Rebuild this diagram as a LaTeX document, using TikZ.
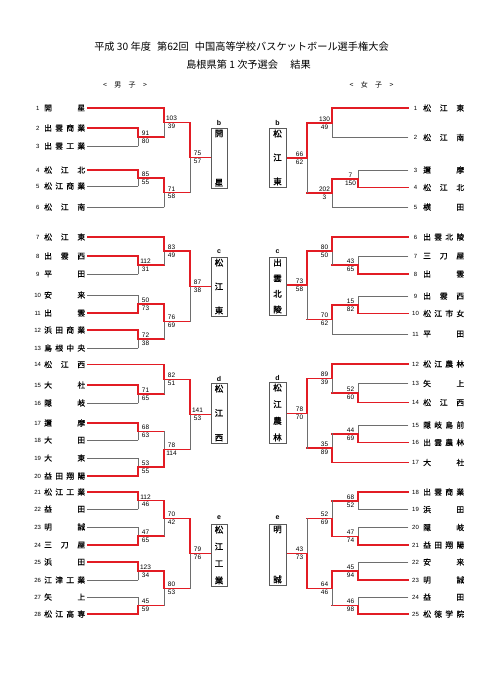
\documentclass[tikz,border=0pt]{standalone}
\usepackage{fontspec}
\setmainfont{Liberation Sans}
\newfontfamily\jp{Noto Sans CJK JP}
\newfontfamily\jpn[FakeBold=0.3]{Noto Sans CJK JP}
\newfontfamily\jpb[FakeBold=1.2]{Noto Sans CJK JP}
\definecolor{myred}{RGB}{226,28,36}
\definecolor{mygray}{RGB}{110,110,110}
\definecolor{boxgray}{RGB}{90,90,90}
\tikzset{
  nmst/.style={inner sep=0pt, font=\jpn\fontsize{7.8}{8}\selectfont},
  numst/.style={inner sep=0pt, font=\fontsize{6}{6}\selectfont},
  scst/.style={inner sep=0pt, font=\fontsize{6.5}{7}\selectfont},
  rl/.style={draw=myred, line width=1.5pt, line cap=rect},
  gl/.style={draw=mygray, line width=0.8pt, line cap=rect},
  bx/.style={draw=boxgray, line width=0.8pt, fill=white, inner sep=0pt},
  lab/.style={inner sep=0pt, font=\bfseries\fontsize{7}{7}\selectfont},
  ttl/.style={inner sep=0pt, font=\jp\fontsize{10.2}{12}\selectfont},
  sub/.style={inner sep=0pt, font=\jp\fontsize{7}{8}\selectfont}
}
\newcommand\teamL[6]{%
  \node[numst] at (37.7,#3) {#2};
  \node[nmst, anchor=west] (#1) at (44,#3) {\makebox[41pt][s]{#4}};
  \draw[#6] (#1.east) ++(2,0) -- (#5,#3);
}
\newcommand\teamR[6]{%
  \node[numst] at (415.5,#3) {#2};
  \node[nmst, anchor=west] (#1) at (423,#3) {\makebox[41pt][s]{#4}};
  \draw[#6] (#1.west) ++(-15,0) -- (#5,#3);
}
\newcommand\matchX[8]{%
  \pgfmathsetmacro\ymid{(#2+#3)/2}%
  \if#4t
    \draw[gl] (#1,\ymid) -- (#1,#3);
    \draw[rl] (#1,#2) -- (#1,\ymid);
  \else
    \draw[gl] (#1,#2) -- (#1,\ymid);
    \draw[rl] (#1,\ymid) -- (#1,#3);
  \fi
  \draw[rl] (#1,\ymid) -- (#5,\ymid);
  \node[scst, anchor=south] at (#8,\ymid-1.3) {#6};
  \node[scst, anchor=north] at (#8,\ymid+1.6) {#7};
}
\newcommand\boxtxt[2]{\parbox[c][#1pt][s]{12pt}{\centering\jpb\fontsize{8.5}{9}\selectfont #2}}
\begin{document}
\begin{tikzpicture}[x=1pt,y=-1pt]
\useasboundingbox (0,0) rectangle (481,680);
% titles
\node[ttl] (T1) at (241.5,47) {平成 30 年度\hspace{0.6em}第62回\hspace{0.6em}中国高等学校バスケットボール選手権大会};
\node[ttl] (T2) at (248.5,65) {島根県第 1 次予選会\hspace{1.2em}結果};
\node[sub] (SB) at (125,85) {\makebox[44pt][s]{<\hfill 男\hfill 子\hfill >}};
\node[sub] (SG) at (371.5,85) {\makebox[44pt][s]{<\hfill 女\hfill 子\hfill >}};
% ===== boys =====
\teamL{L1}{1}{108}{開\hfill 星}{164}{rl}
\teamL{L2}{2}{128}{出\hfill 雲\hfill 商\hfill 業}{138}{rl}
\teamL{L3}{3}{146}{出\hfill 雲\hfill 工\hfill 業}{138}{gl}
\teamL{L4}{4}{170}{松\hfill 江\hfill 北}{138}{rl}
\teamL{L5}{5}{186}{松\hfill 江\hfill 商\hfill 業}{138}{gl}
\teamL{L6}{6}{207}{松\hfill 江\hfill 南}{164}{gl}
\matchX{138}{128}{146}{t}{164}{91}{80}{145.5}
\matchX{164}{108}{137}{t}{190}{103}{39}{171.5}
\matchX{138}{170}{186}{t}{164}{85}{55}{145.5}
\matchX{164}{178}{207}{t}{190}{71}{58}{171.5}
\matchX{190}{122.5}{192.5}{t}{211}{75}{57}{197.5}
\teamL{L7}{7}{237}{松\hfill 江\hfill 東}{164}{rl}
\teamL{L8}{8}{256}{出\hfill 雲\hfill 西}{138}{rl}
\teamL{L9}{9}{274}{平\hfill 田}{138}{gl}
\teamL{L10}{10}{295}{安\hfill 来}{138}{gl}
\teamL{L11}{11}{313}{出\hfill 雲}{138}{rl}
\teamL{L12}{12}{330}{浜\hfill 田\hfill 商\hfill 業}{138}{rl}
\teamL{L13}{13}{348}{島\hfill 根\hfill 中\hfill 央}{138}{gl}
\matchX{138}{256}{274}{t}{164}{112}{31}{145.5}
\matchX{164}{237}{265}{t}{190}{83}{49}{171.5}
\matchX{138}{295}{313}{b}{164}{50}{73}{145.5}
\matchX{138}{330}{348}{t}{164}{72}{38}{145.5}
\matchX{164}{304}{339}{t}{190}{76}{69}{171.5}
\matchX{190}{251}{321.5}{t}{211}{87}{38}{197.5}
\teamL{L14}{14}{364.5}{松\hfill 江\hfill 西}{164}{rl}
\teamL{L15}{15}{385}{大\hfill 社}{138}{rl}
\teamL{L16}{16}{403}{隠\hfill 岐}{138}{gl}
\teamL{L17}{17}{423}{邇\hfill 摩}{138}{rl}
\teamL{L18}{18}{440}{大\hfill 田}{138}{gl}
\teamL{L19}{19}{458}{大\hfill 東}{138}{gl}
\teamL{L20}{20}{476}{益\hfill 田\hfill 翔\hfill 陽}{138}{rl}
\matchX{138}{385}{403}{t}{164}{71}{65}{145.5}
\matchX{164}{364.5}{394}{t}{190}{82}{51}{171.5}
\matchX{138}{423}{440}{t}{164}{68}{63}{145.5}
\matchX{138}{458}{476}{b}{164}{53}{55}{145.5}
\matchX{164}{431.5}{467}{b}{190}{78}{114}{171.5}
\matchX{190}{379.25}{449.25}{t}{211}{141}{53}{197.5}
\teamL{L21}{21}{492}{松\hfill 江\hfill 工\hfill 業}{138}{rl}
\teamL{L22}{22}{509}{益\hfill 田}{138}{gl}
\teamL{L23}{23}{527}{明\hfill 誠}{138}{gl}
\teamL{L24}{24}{545}{三\hfill 刀\hfill 屋}{138}{rl}
\teamL{L25}{25}{562}{浜\hfill 田}{138}{rl}
\teamL{L26}{26}{580}{江\hfill 津\hfill 工\hfill 業}{138}{gl}
\teamL{L27}{27}{597}{矢\hfill 上}{138}{gl}
\teamL{L28}{28}{614}{松\hfill 江\hfill 高\hfill 専}{138}{rl}
\matchX{138}{492}{509}{t}{164}{112}{46}{145.5}
\matchX{138}{527}{545}{b}{164}{47}{65}{145.5}
\matchX{164}{500.5}{536}{t}{190}{70}{42}{171.5}
\matchX{138}{562}{580}{t}{164}{123}{34}{145.5}
\matchX{138}{597}{614}{b}{164}{45}{59}{145.5}
\matchX{164}{571}{605.5}{t}{190}{80}{53}{171.5}
\matchX{190}{518.25}{588.25}{t}{211}{79}{76}{197.5}
% ===== girls =====
\teamR{R1}{1}{108}{松\hfill 江\hfill 東}{332}{rl}
\teamR{R2}{2}{137.5}{松\hfill 江\hfill 南}{332}{gl}
\teamR{R3}{3}{170}{邇\hfill 摩}{358}{gl}
\teamR{R4}{4}{187.5}{松\hfill 江\hfill 北}{358}{rl}
\teamR{R5}{5}{207}{横\hfill 田}{332}{gl}
\matchX{332}{108}{137.5}{t}{307}{130}{49}{324.5}
\matchX{358}{170}{187.5}{b}{332}{7}{150}{350.5}
\matchX{332}{178.75}{207}{t}{307}{202}{3}{324.5}
\matchX{307}{122.75}{192.875}{t}{286}{66}{62}{299.5}
\teamR{R6}{6}{237}{出\hfill 雲\hfill 北\hfill 陵}{332}{rl}
\teamR{R7}{7}{256}{三\hfill 刀\hfill 屋}{358}{gl}
\teamR{R8}{8}{274}{出\hfill 雲}{358}{rl}
\teamR{R9}{9}{296}{出\hfill 雲\hfill 西}{358}{gl}
\teamR{R10}{10}{313.5}{松\hfill 江\hfill 市\hfill 女}{358}{rl}
\teamR{R11}{11}{334}{平\hfill 田}{332}{gl}
\matchX{358}{256}{274}{b}{332}{43}{65}{350.5}
\matchX{332}{237}{265}{t}{307}{80}{50}{324.5}
\matchX{358}{296}{313.5}{b}{332}{15}{82}{350.5}
\matchX{332}{304.75}{334}{t}{307}{70}{62}{324.5}
\matchX{307}{251}{319.375}{t}{286}{73}{58}{299.5}
\teamR{R12}{12}{364}{松\hfill 江\hfill 農\hfill 林}{332}{rl}
\teamR{R13}{13}{383.5}{矢\hfill 上}{358}{gl}
\teamR{R14}{14}{402.5}{松\hfill 江\hfill 西}{358}{rl}
\teamR{R15}{15}{425}{隠\hfill 岐\hfill 島\hfill 前}{358}{gl}
\teamR{R16}{16}{442.5}{出\hfill 雲\hfill 農\hfill 林}{358}{rl}
\teamR{R17}{17}{462.5}{大\hfill 社}{332}{rl}
\matchX{358}{383.5}{402.5}{b}{332}{52}{60}{350.5}
\matchX{332}{364}{393}{t}{307}{89}{39}{324.5}
\matchX{358}{425}{442.5}{b}{332}{44}{69}{350.5}
\matchX{332}{433.75}{462.5}{b}{307}{35}{89}{324.5}
\matchX{307}{378.5}{448.125}{t}{286}{78}{70}{299.5}
\teamR{R18}{18}{492}{出\hfill 雲\hfill 商\hfill 業}{358}{rl}
\teamR{R19}{19}{509.5}{浜\hfill 田}{358}{gl}
\teamR{R20}{20}{527.5}{隠\hfill 岐}{358}{gl}
\teamR{R21}{21}{545}{益\hfill 田\hfill 翔\hfill 陽}{358}{rl}
\teamR{R22}{22}{562}{安\hfill 来}{358}{gl}
\teamR{R23}{23}{580}{明\hfill 誠}{358}{rl}
\teamR{R24}{24}{597}{益\hfill 田}{358}{gl}
\teamR{R25}{25}{614}{松\hfill 徳\hfill 学\hfill 院}{358}{rl}
\matchX{358}{492}{509.5}{t}{332}{68}{52}{350.5}
\matchX{358}{527.5}{545}{b}{332}{47}{74}{350.5}
\matchX{332}{500.75}{536.25}{b}{307}{52}{69}{324.5}
\matchX{358}{562}{580}{b}{332}{45}{94}{350.5}
\matchX{358}{597}{614}{b}{332}{46}{98}{350.5}
\matchX{332}{571}{605.5}{t}{307}{64}{46}{324.5}
\matchX{307}{518.5}{588.25}{b}{286}{43}{73}{299.5}
% ===== winner boxes =====
\node[bx, minimum width=16pt, minimum height=60pt] (WLb) at (219,158) {\boxtxt{56}{開\par\vfill 星}};
\node[bx, minimum width=16pt, minimum height=59pt] (WLc) at (219,286.5) {\boxtxt{55}{松\par\vfill 江\par\vfill 東}};
\node[bx, minimum width=16pt, minimum height=60pt] (WLd) at (219,413) {\boxtxt{56}{松\par\vfill 江\par\vfill 西}};
\node[bx, minimum width=16pt, minimum height=62pt] (WLe) at (219,555) {\boxtxt{58}{松\par\vfill 江\par\vfill 工\par\vfill 業}};
\node[bx, minimum width=17pt, minimum height=59pt] (WRb) at (277.5,157.5) {\boxtxt{55}{松\par\vfill 江\par\vfill 東}};
\node[bx, minimum width=17pt, minimum height=58pt] (WRc) at (277.5,286) {\boxtxt{54}{出\par\vfill 雲\par\vfill 北\par\vfill 陵}};
\node[bx, minimum width=17pt, minimum height=61pt] (WRd) at (277.5,412.5) {\boxtxt{57}{松\par\vfill 江\par\vfill 農\par\vfill 林}};
\node[bx, minimum width=17pt, minimum height=61pt] (WRe) at (277.5,554.5) {\boxtxt{57}{明\par\vfill 誠}};
\node[lab] (LLb) at (219,123) {b};
\node[lab] (LLc) at (219,251.5) {c};
\node[lab] (LLd) at (219,378.5) {d};
\node[lab] (LLe) at (219,518) {e};
\node[lab] (LRb) at (277.5,123) {b};
\node[lab] (LRc) at (277.5,251.5) {c};
\node[lab] (LRd) at (277.5,377.5) {d};
\node[lab] (LRe) at (277.5,518) {e};
\end{tikzpicture}
\end{document}
